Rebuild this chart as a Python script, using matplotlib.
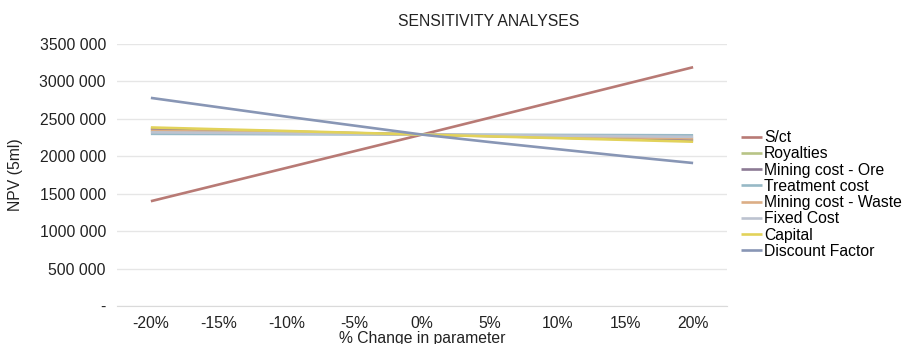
import matplotlib
matplotlib.use('Agg')
import matplotlib.pyplot as plt
import numpy as np

plt.rcParams['font.family'] = ['Liberation Sans', 'DejaVu Sans']

changes = ['-20%', '-15%', '-10%', '-5%', '0%', '5%', '10%', '15%', '20%']

sct = [1400000, 1622500, 1845000, 2067500, 2290000, 2515000, 2740000, 2965000, 3190000]
royalties = [2350000, 2335000, 2320000, 2305000, 2290000, 2275000, 2260000, 2245000, 2230000]
mining_ore = [2370000, 2350000, 2330000, 2310000, 2290000, 2270000, 2250000, 2230000, 2210000]
treatment = [2300000, 2298000, 2295000, 2293000, 2290000, 2288000, 2285000, 2283000, 2280000]
mining_waste = [2340000, 2328000, 2315000, 2303000, 2290000, 2278000, 2265000, 2253000, 2240000]
fixed_cost = [2320000, 2313000, 2305000, 2298000, 2290000, 2283000, 2275000, 2268000, 2260000]
capital = [2385000, 2361000, 2338000, 2314000, 2290000, 2266000, 2243000, 2219000, 2195000]
discount = [2780000, 2655000, 2530000, 2410000, 2290000, 2190000, 2095000, 2000000, 1910000]

series = [
    ('S/ct', sct, '#b87a75'),
    ('Royalties', royalties, '#b8c486'),
    ('Mining cost - Ore', mining_ore, '#8c7a94'),
    ('Treatment cost', treatment, '#97b9c6'),
    ('Mining cost - Waste', mining_waste, '#dcae86'),
    ('Fixed Cost', fixed_cost, '#bcc3d0'),
    ('Capital', capital, '#e2d25a'),
    ('Discount Factor', discount, '#8896b5'),
]

yticks = [0, 500000, 1000000, 1500000, 2000000, 2500000, 3000000, 3500000]
ytick_labels = ['-', '500 000', '1000 000', '1500 000', '2000 000', '2500 000', '3000 000', '3500 000']

fig = plt.figure(figsize=(9.04, 3.44), dpi=100)
ax = fig.add_axes([117 / 904, 38 / 344, 610 / 904, 262 / 344])

x = np.arange(len(changes))
for name, vals, color in series:
    ax.plot(x, vals, color=color, lw=1.9, label=name, solid_capstyle='butt')

ax.set_xlim(-0.5, len(changes) - 0.5)
ax.set_ylim(0, 3500000)
ax.set_yticks(yticks)
ax.set_yticklabels(ytick_labels)
ax.set_xticks(x)
ax.set_xticklabels(changes)
ax.tick_params(axis='both', length=0, labelsize=11.3, colors='#222222', pad=8)
ax.tick_params(axis='x', pad=7)
ax.grid(axis='y', color='#e6e6e6', lw=1)
ax.set_axisbelow(True)
for side in ['left', 'right', 'top']:
    ax.spines[side].set_visible(False)
ax.spines['bottom'].set_color('#dadada')

ax.set_title('SENSITIVITY ANALYSES', fontsize=11.3, color='#222222', pad=13, x=0.61)
ax.set_xlabel('% Change in parameter', fontsize=11.3, color='#222222', labelpad=0)
ax.set_ylabel('NPV (5ml)', fontsize=11.3, color='#222222', labelpad=12)

ax.legend(loc='upper left', bbox_to_anchor=(1.0, 0.725), frameon=False, fontsize=11.3,
          handlelength=1.3, handletextpad=0.15, labelspacing=0.08, borderaxespad=0.5)

fig.savefig('out.png', dpi=100)
